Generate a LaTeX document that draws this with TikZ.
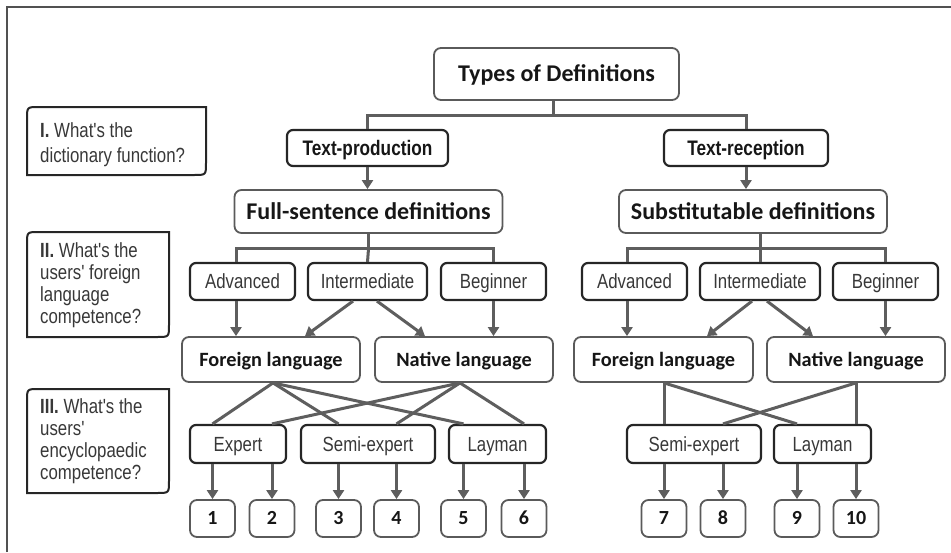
\documentclass[tikz,border=0pt]{standalone}
\usepackage{fontspec}
\usetikzlibrary{arrows.meta,calc}
\newfontfamily\calib{Carlito}
\newfontfamily\narrowf[FakeStretch=0.82]{Liberation Sans}
\definecolor{linegray}{HTML}{5E5E5E}
\definecolor{darkb}{HTML}{262626}
\definecolor{grayb}{HTML}{5A5A5A}
\definecolor{txtg}{HTML}{383838}
\definecolor{txtb}{HTML}{161616}
\begin{document}
\begin{tikzpicture}[x=1pt,y=-1pt,
  darkbox/.style={draw=darkb,line width=2.2pt,rounded corners=6pt,inner sep=0pt,align=center,text depth=0pt},
  graybox/.style={draw=grayb,line width=1.8pt,rounded corners=7pt,inner sep=0pt,align=center,text depth=0pt},
  bigbold/.style={font=\calib\bfseries\fontsize{24}{28}\selectfont,text=txtb,text height=15.4pt},
  midbold/.style={font=\calib\bfseries\fontsize{20.3}{24}\selectfont,text=txtb,text height=13pt},
  narrowbold/.style={font=\narrowf\bfseries\fontsize{21}{24}\selectfont,text=txtb,text height=15pt},
  narrowreg/.style={font=\narrowf\fontsize{20.5}{24}\selectfont,text=txtg,text height=14.7pt},
  numbox/.style={graybox,minimum width=45pt,minimum height=37pt,font=\calib\bfseries\fontsize{20}{24}\selectfont,text=txtb,text height=12.7pt},
  conn/.style={draw=linegray,line width=3pt},
  arr/.style={draw=linegray,line width=3pt,-{Triangle[length=9pt,width=11pt]}},
  qbox/.style={draw=darkb,line width=2pt},
]
\useasboundingbox (0,0) rectangle (951,552);
% frame
\draw[draw=darkb!80,line width=1.5pt] (7,552) -- (7,7) -- (951,7);

% question boxes
\draw[qbox] (27,175) -- (27,119) .. controls (27,107) .. (39,107) -- (206,107) -- (206,163) .. controls (206,175) .. (194,175) -- cycle;
\draw[qbox] (27,337) -- (27,244) .. controls (27,232) .. (39,232) -- (169,232) -- (169,325) .. controls (169,337) .. (157,337) -- cycle;
\draw[qbox] (27,493) -- (27,401) .. controls (27,389) .. (39,389) -- (169,389) -- (169,481) .. controls (169,493) .. (157,493) -- cycle;
\node[narrowreg,anchor=base west,align=left,inner sep=0pt,text height=,font=\narrowf\fontsize{20.5}{25}\selectfont] (q1) at (40,162) {\textbf{I.} What's the\\dictionary function?};
\node[narrowreg,anchor=base west,align=left,inner sep=0pt,text height=,font=\narrowf\fontsize{20.5}{21.7}\selectfont] (q2) at (40,323) {\textbf{II.} What's the\\users' foreign\\language\\competence?};
\node[narrowreg,anchor=base west,align=left,inner sep=0pt,text height=,font=\narrowf\fontsize{20.5}{22}\selectfont] (q3) at (40,479) {\textbf{III.} What's the\\users'\\encyclopaedic\\competence?};

% level 1
\node[graybox,bigbold,minimum width=245pt,minimum height=52pt] (types) at (556.5,74) {Types of Definitions};
\node[darkbox,narrowbold,minimum width=161pt,minimum height=36pt] (tp) at (367.5,148) {Text-production};
\node[darkbox,narrowbold,minimum width=164pt,minimum height=36pt] (tr) at (746,148) {Text-reception};
\node[graybox,bigbold,minimum width=268pt,minimum height=43pt] (fsd) at (368.5,211.5) {Full-sentence definitions};
\node[graybox,bigbold,minimum width=268pt,minimum height=43pt] (sd) at (753,211.5) {Substitutable definitions};

% level 2
\node[darkbox,narrowreg,minimum width=105pt,minimum height=37pt] (advL) at (242.5,281.5) {Advanced};
\node[darkbox,narrowreg,minimum width=119pt,minimum height=37pt] (intL) at (367.5,281.5) {Intermediate};
\node[darkbox,narrowreg,minimum width=105pt,minimum height=37pt] (begL) at (493.5,281.5) {Beginner};
\node[darkbox,narrowreg,minimum width=105pt,minimum height=37pt] (advR) at (634.5,281.5) {Advanced};
\node[darkbox,narrowreg,minimum width=120pt,minimum height=37pt] (intR) at (760,281.5) {Intermediate};
\node[darkbox,narrowreg,minimum width=105pt,minimum height=37pt] (begR) at (885.5,281.5) {Beginner};

\node[graybox,midbold,minimum width=178pt,minimum height=45pt] (forL) at (271,359.5) {Foreign language};
\node[graybox,midbold,minimum width=178pt,minimum height=45pt] (natL) at (464,359.5) {Native language};
\node[graybox,midbold,minimum width=179pt,minimum height=45pt] (forR) at (663.5,359.5) {Foreign language};
\node[graybox,midbold,minimum width=178pt,minimum height=45pt] (natR) at (856,359.5) {Native language};

% level 3
\node[darkbox,narrowreg,minimum width=96pt,minimum height=38pt] (expL) at (238,444) {Expert};
\node[darkbox,narrowreg,minimum width=134pt,minimum height=38pt] (semL) at (368,444) {Semi-expert};
\node[darkbox,narrowreg,minimum width=97pt,minimum height=38pt] (layL) at (497.5,444) {Layman};
\node[darkbox,narrowreg,minimum width=134pt,minimum height=38pt] (semR) at (694,444) {Semi-expert};
\node[darkbox,narrowreg,minimum width=97pt,minimum height=38pt] (layR) at (822.5,444) {Layman};

% numbers
\node[numbox] (n1) at (212.5,518.5) {1};
\node[numbox] (n2) at (272,518.5) {2};
\node[numbox] (n3) at (338.5,518.5) {3};
\node[numbox] (n4) at (396.5,518.5) {4};
\node[numbox] (n5) at (463.5,518.5) {5};
\node[numbox] (n6) at (524,518.5) {6};
\node[numbox] (n7) at (664,518.5) {7};
\node[numbox] (n8) at (723,518.5) {8};
\node[numbox] (n9) at (797,518.5) {9};
\node[numbox] (n10) at (856,518.5) {10};

% connectors level 1
\draw[conn] ([xshift=-3pt]types.south) -- ++(0,15) coordinate (tj);
\draw[conn] (tp.north) |- (tj) -| (tr.north);
\draw[arr] (tp.south) -- (tp.south |- fsd.north);
\draw[arr] (tr.south) -- (tr.south |- sd.north);

% connectors to level 2
\draw[conn] (fsd.south) -- ++(0,15) coordinate (fj);
\draw[conn] ([xshift=-6.5pt]advL.north) |- (fj) -| (begL.north);
\draw[conn] (fj) -- (intL.north);
\draw[conn] ([xshift=7pt]sd.south) -- ++(0,15) coordinate (sj);
\draw[conn] ([xshift=-7.5pt]advR.north) |- (sj) -| (begR.north);
\draw[conn] (sj) -- (intR.north);

% arrows level 2 -> language
\draw[arr] ([xshift=-6.5pt]advL.south) -- ([xshift=-6.5pt]advL.south |- forL.north);
\draw[arr] ([xshift=-14.5pt]intL.south) -- ([xshift=34pt]forL.north);
\draw[arr] ([xshift=9.5pt]intL.south) -- ([xshift=-39pt]natL.north);
\draw[arr] (begL.south) -- (begL.south |- natL.north);
\draw[arr] ([xshift=-7.5pt]advR.south) -- ([xshift=-7.5pt]advR.south |- forR.north);
\draw[arr] ([xshift=-8pt]intR.south) -- ([xshift=43.5pt]forR.north);
\draw[arr] ([xshift=7pt]intR.south) -- ([xshift=-43pt]natR.north);
\draw[arr] (begR.south) -- (begR.south |- natR.north);

% language -> encyclopaedic
\draw[conn] ([xshift=2pt]forL.south) -- (n1.north |- expL.north);
\draw[conn] ([xshift=2pt]forL.south) -- (n3.north |- semL.north);
\draw[conn] ([xshift=2pt]forL.south) -- (n5.north |- layL.north);
\draw[conn] ([xshift=-4pt]natL.south) -- (n2.north |- expL.north);
\draw[conn] ([xshift=-4pt]natL.south) -- (n4.north |- semL.north);
\draw[conn] ([xshift=-4pt]natL.south) -- (n6.north |- layL.north);
\draw[conn] (n7.north |- forR.south) -- (n7.north |- semR.north);
\draw[conn] (n7.north |- forR.south) -- (n9.north |- layR.north);
\draw[conn] (n10.north |- natR.south) -- (n8.north |- semR.north);
\draw[conn] (n10.north |- natR.south) -- (n10.north |- layR.north);

% arrows to numbers
\draw[arr] (n1.north |- expL.south) -- (n1.north);
\draw[arr] (n2.north |- expL.south) -- (n2.north);
\draw[arr] (n3.north |- semL.south) -- (n3.north);
\draw[arr] (n4.north |- semL.south) -- (n4.north);
\draw[arr] (n5.north |- layL.south) -- (n5.north);
\draw[arr] (n6.north |- layL.south) -- (n6.north);
\draw[arr] (n7.north |- semR.south) -- (n7.north);
\draw[arr] (n8.north |- semR.south) -- (n8.north);
\draw[arr] (n9.north |- layR.south) -- (n9.north);
\draw[arr] (n10.north |- layR.south) -- (n10.north);
\end{tikzpicture}
\end{document}
